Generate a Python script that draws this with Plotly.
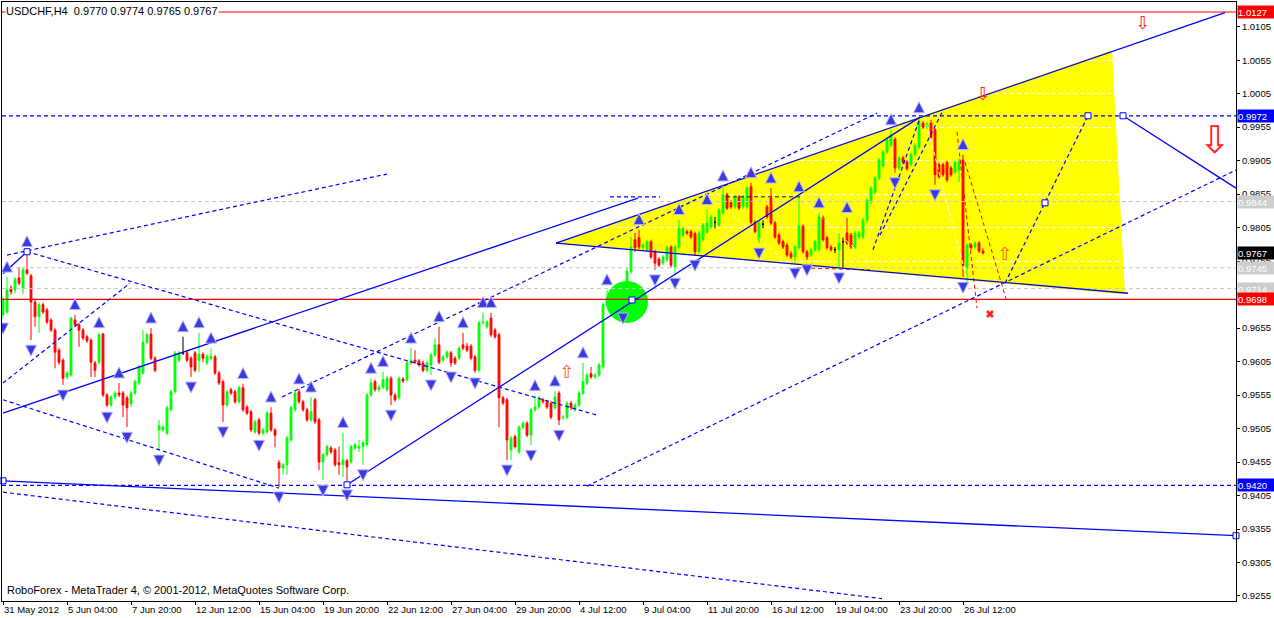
import plotly.graph_objects as go

# ---------------- data ----------------
symbol = "USDCHF,H4"
bar_index = list(range(246))

opens = [
 0.9675, 0.9679, 0.9715, 0.9712, 0.9730, 0.9715, 0.9742, 0.9733, 0.9694, 0.9672,
 0.9690, 0.9682, 0.9667, 0.9652, 0.9622, 0.9607, 0.9582, 0.9585, 0.9667, 0.9660,
 0.9652, 0.9642, 0.9637, 0.9603, 0.9604, 0.9646, 0.9555, 0.9540, 0.9552, 0.9558,
 0.9558, 0.9551, 0.9542, 0.9558, 0.9573, 0.9588, 0.9634, 0.9646, 0.9610, 0.9503,
 0.9503, 0.9498, 0.9533, 0.9560, 0.9607, 0.9618, 0.9618, 0.9610, 0.9618, 0.9607,
 0.9616, 0.9603, 0.9610, 0.9612, 0.9588, 0.9575, 0.9540, 0.9563, 0.9560, 0.9545,
 0.9566, 0.9537, 0.9530, 0.9500, 0.9518, 0.9498, 0.9500, 0.9528, 0.9503, 0.9454,
 0.9446, 0.9451, 0.9488, 0.9533, 0.9560, 0.9545, 0.9533, 0.9518, 0.9548, 0.9518,
 0.9455, 0.9466, 0.9476, 0.9473, 0.9454, 0.9451, 0.9457, 0.9455, 0.9476, 0.9476,
 0.9478, 0.9481, 0.9555, 0.9575, 0.9563, 0.9567, 0.9563, 0.9580, 0.9555, 0.9551,
 0.9579, 0.9578, 0.9603, 0.9607, 0.9606, 0.9603, 0.9592, 0.9600, 0.9615, 0.9630,
 0.9607, 0.9612, 0.9618, 0.9610, 0.9610, 0.9630, 0.9628, 0.9628, 0.9612, 0.9592,
 0.9663, 0.9657, 0.9670, 0.9652, 0.9645, 0.9551, 0.9548, 0.9473, 0.9493, 0.9470,
 0.9507, 0.9513, 0.9495, 0.9533, 0.9537, 0.9548, 0.9545, 0.9543, 0.9536, 0.9558,
 0.9521, 0.9522, 0.9543, 0.9533, 0.9540, 0.9558, 0.9573, 0.9587, 0.9582, 0.9585,
 0.9597, 0.9690, 0.9700, 0.9697, 0.9694, 0.9700, 0.9697, 0.9739, 0.9787, 0.9790,
 0.9775, 0.9772, 0.9784, 0.9769, 0.9758, 0.9752, 0.9757, 0.9776, 0.9746, 0.9776,
 0.9794, 0.9799, 0.9799, 0.9796, 0.9769, 0.9787, 0.9798, 0.9806, 0.9813, 0.9809,
 0.9827, 0.9854, 0.9843, 0.9836, 0.9851, 0.9836, 0.9836, 0.9866, 0.9813, 0.9787,
 0.9810, 0.9836, 0.9849, 0.9812, 0.9794, 0.9784, 0.9779, 0.9766, 0.9761, 0.9775,
 0.9807, 0.9769, 0.9764, 0.9772, 0.9772, 0.9820, 0.9790, 0.9776, 0.9772, 0.9772,
 0.9784, 0.9797, 0.9794, 0.9776, 0.9791, 0.9791, 0.9816, 0.9843, 0.9858, 0.9879,
 0.9897, 0.9918, 0.9928, 0.9937, 0.9894, 0.9909, 0.9903, 0.9899, 0.9914, 0.9925,
 0.9961, 0.9955, 0.9961, 0.9951, 0.9899, 0.9899, 0.9902, 0.9894, 0.9888, 0.9891,
 0.9906, 0.9746, 0.9779, 0.9776, 0.9782, 0.9770,
]
highs = [
 0.9702, 0.9731, 0.9719, 0.9731, 0.9746, 0.9746, 0.9769, 0.9736, 0.9697, 0.9693,
 0.9693, 0.9685, 0.9670, 0.9655, 0.9625, 0.9610, 0.9591, 0.9672, 0.9675, 0.9663,
 0.9655, 0.9645, 0.9640, 0.9606, 0.9648, 0.9648, 0.9558, 0.9555, 0.9561, 0.9573,
 0.9561, 0.9554, 0.9561, 0.9578, 0.9600, 0.9652, 0.9648, 0.9655, 0.9613, 0.9518,
 0.9510, 0.9539, 0.9563, 0.9621, 0.9621, 0.9642, 0.9621, 0.9613, 0.9621, 0.9648,
 0.9619, 0.9616, 0.9625, 0.9615, 0.9591, 0.9578, 0.9563, 0.9566, 0.9563, 0.9569,
 0.9572, 0.9540, 0.9533, 0.9518, 0.9521, 0.9506, 0.9531, 0.9537, 0.9506, 0.9458,
 0.9454, 0.9494, 0.9539, 0.9561, 0.9564, 0.9548, 0.9536, 0.9552, 0.9551, 0.9521,
 0.9469, 0.9481, 0.9479, 0.9476, 0.9478, 0.9499, 0.9460, 0.9481, 0.9484, 0.9488,
 0.9487, 0.9558, 0.9580, 0.9578, 0.9570, 0.9590, 0.9583, 0.9583, 0.9558, 0.9583,
 0.9582, 0.9606, 0.9625, 0.9622, 0.9609, 0.9606, 0.9606, 0.9618, 0.9640, 0.9657,
 0.9615, 0.9622, 0.9621, 0.9613, 0.9628, 0.9648, 0.9633, 0.9631, 0.9615, 0.9666,
 0.9678, 0.9667, 0.9678, 0.9655, 0.9648, 0.9554, 0.9551, 0.9494, 0.9496, 0.9510,
 0.9516, 0.9516, 0.9536, 0.9554, 0.9554, 0.9551, 0.9548, 0.9546, 0.9561, 0.9561,
 0.9525, 0.9546, 0.9546, 0.9543, 0.9561, 0.9603, 0.9588, 0.9597, 0.9588, 0.9603,
 0.9693, 0.9712, 0.9706, 0.9709, 0.9707, 0.9715, 0.9745, 0.9791, 0.9797, 0.9802,
 0.9782, 0.9787, 0.9787, 0.9772, 0.9761, 0.9764, 0.9778, 0.9779, 0.9779, 0.9817,
 0.9807, 0.9802, 0.9802, 0.9799, 0.9800, 0.9812, 0.9832, 0.9824, 0.9821, 0.9834,
 0.9867, 0.9857, 0.9846, 0.9854, 0.9854, 0.9854, 0.9867, 0.9872, 0.9816, 0.9815,
 0.9816, 0.9839, 0.9864, 0.9815, 0.9797, 0.9787, 0.9782, 0.9770, 0.9779, 0.9851,
 0.9810, 0.9772, 0.9775, 0.9787, 0.9827, 0.9823, 0.9793, 0.9779, 0.9776, 0.9797,
 0.9791, 0.9820, 0.9797, 0.9800, 0.9800, 0.9820, 0.9849, 0.9867, 0.9882, 0.9909,
 0.9921, 0.9939, 0.9951, 0.9940, 0.9912, 0.9912, 0.9906, 0.9917, 0.9931, 0.9969,
 0.9964, 0.9963, 0.9966, 0.9954, 0.9902, 0.9902, 0.9905, 0.9897, 0.9905, 0.9909,
 0.9914, 0.9782, 0.9782, 0.9785, 0.9785, 0.9774,
]
lows = [
 0.9670, 0.9676, 0.9705, 0.9707, 0.9719, 0.9706, 0.9734, 0.9637, 0.9657, 0.9648,
 0.9676, 0.9661, 0.9649, 0.9595, 0.9600, 0.9570, 0.9578, 0.9582, 0.9657, 0.9627,
 0.9637, 0.9633, 0.9582, 0.9582, 0.9601, 0.9552, 0.9537, 0.9537, 0.9549, 0.9552,
 0.9522, 0.9507, 0.9537, 0.9555, 0.9570, 0.9585, 0.9631, 0.9607, 0.9589, 0.9473,
 0.9500, 0.9495, 0.9530, 0.9557, 0.9604, 0.9615, 0.9604, 0.9582, 0.9589, 0.9589,
 0.9604, 0.9600, 0.9607, 0.9585, 0.9570, 0.9515, 0.9537, 0.9555, 0.9542, 0.9542,
 0.9530, 0.9525, 0.9500, 0.9497, 0.9495, 0.9495, 0.9497, 0.9500, 0.9477, 0.9418,
 0.9436, 0.9436, 0.9485, 0.9530, 0.9542, 0.9530, 0.9515, 0.9515, 0.9512, 0.9443,
 0.9428, 0.9463, 0.9467, 0.9448, 0.9436, 0.9433, 0.9421, 0.9452, 0.9473, 0.9470,
 0.9451, 0.9478, 0.9552, 0.9560, 0.9560, 0.9564, 0.9560, 0.9540, 0.9545, 0.9548,
 0.9573, 0.9575, 0.9600, 0.9601, 0.9597, 0.9589, 0.9589, 0.9585, 0.9612, 0.9601,
 0.9604, 0.9609, 0.9597, 0.9600, 0.9607, 0.9622, 0.9619, 0.9607, 0.9588, 0.9589,
 0.9660, 0.9654, 0.9642, 0.9639, 0.9507, 0.9540, 0.9458, 0.9458, 0.9475, 0.9467,
 0.9504, 0.9492, 0.9480, 0.9530, 0.9534, 0.9542, 0.9534, 0.9519, 0.9533, 0.9510,
 0.9518, 0.9519, 0.9533, 0.9530, 0.9537, 0.9555, 0.9570, 0.9579, 0.9579, 0.9582,
 0.9594, 0.9687, 0.9688, 0.9688, 0.9691, 0.9685, 0.9693, 0.9736, 0.9769, 0.9773,
 0.9772, 0.9769, 0.9758, 0.9742, 0.9746, 0.9749, 0.9754, 0.9745, 0.9737, 0.9773,
 0.9791, 0.9794, 0.9788, 0.9764, 0.9766, 0.9784, 0.9796, 0.9803, 0.9804, 0.9806,
 0.9824, 0.9831, 0.9833, 0.9833, 0.9831, 0.9833, 0.9833, 0.9810, 0.9796, 0.9782,
 0.9804, 0.9818, 0.9809, 0.9788, 0.9779, 0.9773, 0.9761, 0.9758, 0.9752, 0.9772,
 0.9766, 0.9757, 0.9761, 0.9769, 0.9769, 0.9784, 0.9772, 0.9769, 0.9767, 0.9745,
 0.9745, 0.9779, 0.9773, 0.9773, 0.9788, 0.9788, 0.9813, 0.9840, 0.9855, 0.9876,
 0.9894, 0.9915, 0.9925, 0.9887, 0.9891, 0.9900, 0.9890, 0.9896, 0.9911, 0.9922,
 0.9952, 0.9952, 0.9937, 0.9869, 0.9878, 0.9881, 0.9873, 0.9881, 0.9885, 0.9873,
 0.9731, 0.9724, 0.9772, 0.9773, 0.9767, 0.9765,
]
closes = [
 0.9697, 0.9712, 0.9709, 0.9728, 0.9722, 0.9742, 0.9737, 0.9694, 0.9672, 0.9690,
 0.9679, 0.9664, 0.9652, 0.9619, 0.9604, 0.9580, 0.9588, 0.9670, 0.9660, 0.9652,
 0.9640, 0.9636, 0.9604, 0.9592, 0.9645, 0.9555, 0.9540, 0.9552, 0.9558, 0.9555,
 0.9540, 0.9536, 0.9558, 0.9575, 0.9597, 0.9634, 0.9645, 0.9610, 0.9592, 0.9509,
 0.9507, 0.9536, 0.9560, 0.9618, 0.9618, 0.9618, 0.9607, 0.9597, 0.9592, 0.9616,
 0.9610, 0.9613, 0.9613, 0.9588, 0.9573, 0.9540, 0.9560, 0.9558, 0.9545, 0.9566,
 0.9533, 0.9528, 0.9503, 0.9515, 0.9498, 0.9503, 0.9528, 0.9503, 0.9495, 0.9446,
 0.9451, 0.9491, 0.9536, 0.9558, 0.9545, 0.9533, 0.9518, 0.9530, 0.9515, 0.9455,
 0.9466, 0.9478, 0.9470, 0.9451, 0.9451, 0.9458, 0.9448, 0.9478, 0.9481, 0.9478,
 0.9484, 0.9555, 0.9573, 0.9563, 0.9567, 0.9578, 0.9580, 0.9555, 0.9548, 0.9580,
 0.9576, 0.9603, 0.9607, 0.9604, 0.9600, 0.9592, 0.9603, 0.9615, 0.9630, 0.9604,
 0.9612, 0.9619, 0.9603, 0.9603, 0.9625, 0.9625, 0.9622, 0.9610, 0.9592, 0.9663,
 0.9664, 0.9664, 0.9645, 0.9642, 0.9551, 0.9543, 0.9488, 0.9491, 0.9478, 0.9507,
 0.9513, 0.9495, 0.9533, 0.9537, 0.9551, 0.9545, 0.9537, 0.9522, 0.9552, 0.9518,
 0.9522, 0.9543, 0.9536, 0.9540, 0.9558, 0.9575, 0.9585, 0.9582, 0.9585, 0.9600,
 0.9690, 0.9700, 0.9693, 0.9696, 0.9703, 0.9694, 0.9740, 0.9776, 0.9775, 0.9776,
 0.9779, 0.9784, 0.9761, 0.9752, 0.9749, 0.9761, 0.9775, 0.9749, 0.9776, 0.9804,
 0.9804, 0.9797, 0.9791, 0.9769, 0.9797, 0.9809, 0.9812, 0.9821, 0.9813, 0.9831,
 0.9854, 0.9834, 0.9836, 0.9851, 0.9834, 0.9851, 0.9864, 0.9813, 0.9799, 0.9812,
 0.9810, 0.9821, 0.9812, 0.9791, 0.9782, 0.9776, 0.9764, 0.9761, 0.9776, 0.9807,
 0.9769, 0.9761, 0.9772, 0.9784, 0.9821, 0.9787, 0.9775, 0.9772, 0.9772, 0.9782,
 0.9784, 0.9782, 0.9776, 0.9797, 0.9797, 0.9816, 0.9846, 0.9864, 0.9879, 0.9906,
 0.9918, 0.9936, 0.9943, 0.9894, 0.9909, 0.9903, 0.9893, 0.9914, 0.9928, 0.9963,
 0.9955, 0.9960, 0.9940, 0.9884, 0.9881, 0.9884, 0.9876, 0.9884, 0.9902, 0.9903,
 0.9749, 0.9779, 0.9775, 0.9782, 0.9770, 0.9767,
]

time_tick_index = [0, 16, 32, 48, 64, 80, 96, 112, 128, 144, 160, 176, 192, 208, 224, 240]
time_tick_labels = ["31 May 2012", "5 Jun 04:00", "7 Jun 20:00", "12 Jun 12:00", "15 Jun 04:00",
                    "19 Jun 20:00", "22 Jun 12:00", "27 Jun 04:00", "29 Jun 20:00", "4 Jul 12:00",
                    "9 Jul 04:00", "11 Jul 20:00", "16 Jul 12:00", "19 Jul 04:00", "23 Jul 20:00",
                    "26 Jul 12:00"]
price_tick_labels = ["0.9255", "0.9305", "0.9355", "0.9405", "0.9455", "0.9505", "0.9555", "0.9605",
                     "0.9655", "0.9705", "0.9755", "0.9805", "0.9855", "0.9905", "0.9955", "1.0005",
                     "1.0055", "1.0105"]

fractal_up_bars = [1, 6, 18, 24, 29, 37, 45, 49, 52, 60, 67, 74, 77, 85, 92, 95, 102, 109, 115, 120,
                   122, 133, 138, 145, 151, 159, 169, 176, 180, 187, 192, 199, 204, 211, 222, 229, 240]
fractal_down_bars = [0, 7, 15, 26, 31, 39, 47, 55, 64, 69, 80, 86, 90, 97, 107, 112, 118, 126, 132,
                     139, 155, 163, 168, 173, 189, 198, 201, 209, 223, 233, 240]

red_levels = [1.0127, 0.9698]
blue_levels = [0.9972, 0.9420]
gray_levels = [0.9844, 0.9745, 0.9714]
bid_level = 0.9767

yellow_triangle = [(138.25, 0.9782), (277.25, 1.0070), (280.5, 0.9705)]

solid_lines = [
    (0, 0.9528, 158.75, 0.9849),
    (138.25, 0.9782, 305.5, 1.0126),
    (86, 0.9421, 229.25, 0.9970),
    (138.25, 0.9782, 281.25, 0.9707),
    (0, 0.9427, 308.25, 0.9345),
    (280, 0.9972, 308.25, 0.9864),
    (0, 0.9736, 6, 0.9769),
]
dashed_lines = [
    (1, 0.9764, 96, 0.9885),
    (6, 0.9769, 148.5, 0.9525),
    (0, 0.9573, 31.75, 0.9722),
    (0, 0.9548, 69, 0.9416),
    (0, 0.9410, 219.75, 0.9251),
    (69.75, 0.9552, 218.5, 0.9976),
    (146, 0.9419, 308.25, 0.9891),
    (250.5, 0.9722, 271.25, 0.9972),
    (151.75, 0.9851, 164.25, 0.9851),
    (217.5, 0.9772, 229.25, 0.9969),
    (219.25, 0.9794, 234.75, 0.9977),
]
dark_dashed_lines = [(180.75, 0.9851, 199.25, 0.9851)]
red_dashed_lines = [
    (238.5, 0.9948, 243.5, 0.9685),
    (240.5, 0.9903, 251, 0.9694),
    (198.5, 0.9745, 216.75, 0.9742),
]
white_dashed_lines = [
    (230.5, 0.9969, 241, 0.9727),
    (181, 0.9831, 196, 0.9752),
    (199.25, 0.9851, 216.75, 0.9752),
]
anchor_squares = [(6, 0.9769), (86, 0.9421), (157.25, 0.9697), (280, 0.9972), (271.25, 0.9972),
                  (260.5, 0.9842), (0, 0.9427), (308.25, 0.9345)]
green_circle = (156, 0.9694)
hollow_down_small = [(245, 1.0003), (285, 1.0108)]
hollow_down_big = [(303, 0.9931)]
hollow_up = [(141, 0.9587), (250.5, 0.9764)]
stop_cross = [(246.75, 0.9676)]

X_RANGE = [-0.25, 308.25]
Y_RANGE = [0.92475, 1.01419]

# ---------------- figure ----------------
fig = go.Figure()

norm = [i for i in bar_index if opens[i] != closes[i]]
doji = [i for i in bar_index if opens[i] == closes[i]]

fig.add_trace(go.Candlestick(
    x=norm, open=[opens[i] for i in norm], high=[highs[i] for i in norm],
    low=[lows[i] for i in norm], close=[closes[i] for i in norm],
    increasing=dict(line=dict(color="#00ff00", width=1), fillcolor="#00ff00"),
    decreasing=dict(line=dict(color="#ff0000", width=1), fillcolor="#ff0000"),
    whiskerwidth=0, showlegend=False, hoverinfo="skip"))
fig.add_trace(go.Candlestick(
    x=doji, open=[opens[i] for i in doji], high=[highs[i] for i in doji],
    low=[lows[i] for i in doji], close=[closes[i] for i in doji],
    increasing=dict(line=dict(color="#000000", width=1), fillcolor="#000000"),
    decreasing=dict(line=dict(color="#000000", width=1), fillcolor="#000000"),
    whiskerwidth=0, showlegend=False, hoverinfo="skip"))

# green circle
fig.add_trace(go.Scatter(x=[green_circle[0]], y=[green_circle[1]], mode="markers",
                         marker=dict(size=42, color="#00ff00", line=dict(width=0)),
                         showlegend=False, hoverinfo="skip"))


def seg_trace(segs, color, dash, width):
    xs, ys = [], []
    for x0, y0, x1, y1 in segs:
        xs += [x0, x1, None]
        ys += [y0, y1, None]
    return go.Scatter(x=xs, y=ys, mode="lines", line=dict(color=color, dash=dash, width=width),
                      showlegend=False, hoverinfo="skip", connectgaps=False)


def full(levels):
    return [(X_RANGE[0], v, X_RANGE[1], v) for v in levels]


fig.add_trace(seg_trace(full(gray_levels), "#c8c8c8", "4px,3px", 1))
fig.add_trace(seg_trace(white_dashed_lines, "#ffffff", "4px,3px", 1))
fig.add_trace(seg_trace(red_dashed_lines, "#ff0000", "4px,3px", 1))
fig.add_trace(seg_trace(full(red_levels), "#ff0000", "solid", 1.2))
fig.add_trace(seg_trace(full(blue_levels), "#0000ff", "4px,3px", 1.2))
fig.add_trace(seg_trace(dark_dashed_lines, "#202020", "4px,3px", 1))
fig.add_trace(seg_trace(dashed_lines, "#0000ff", "4px,3px", 1.2))
fig.add_trace(seg_trace(solid_lines, "#0000ff", "solid", 1.3))

# fractals
off = 0.0024
fig.add_trace(go.Scatter(x=fractal_up_bars, y=[highs[i] + off for i in fractal_up_bars],
                         mode="markers", marker=dict(symbol="arrow-up", size=11, color="#3a3ae0",
                                                     line=dict(color="#b8b8ff", width=1)),
                         showlegend=False, hoverinfo="skip"))
fig.add_trace(go.Scatter(x=fractal_down_bars, y=[lows[i] - off for i in fractal_down_bars],
                         mode="markers", marker=dict(symbol="arrow-down", size=11, color="#3a3ae0",
                                                     line=dict(color="#b8b8ff", width=1)),
                         showlegend=False, hoverinfo="skip"))

# anchor squares
fig.add_trace(go.Scatter(x=[p[0] for p in anchor_squares], y=[p[1] for p in anchor_squares],
                         mode="markers", marker=dict(symbol="square", size=6, color="white",
                                                     line=dict(color="#0000ff", width=1)),
                         showlegend=False, hoverinfo="skip", cliponaxis=False))

# hollow arrows and cross
fig.add_trace(go.Scatter(x=[p[0] for p in hollow_down_small], y=[p[1] for p in hollow_down_small],
                         mode="text", text=["\u21e9"] * len(hollow_down_small),
                         textfont=dict(size=18, color="#ff2020", family="DejaVu Sans"),
                         showlegend=False, hoverinfo="skip"))
fig.add_trace(go.Scatter(x=[p[0] for p in hollow_down_big], y=[p[1] for p in hollow_down_big],
                         mode="text", text=["\u21e9"] * len(hollow_down_big),
                         textfont=dict(size=38, color="#ff2020", family="DejaVu Sans"),
                         showlegend=False, hoverinfo="skip"))
fig.add_trace(go.Scatter(x=[p[0] for p in hollow_up], y=[p[1] for p in hollow_up],
                         mode="text", text=["\u21e7"] * len(hollow_up),
                         textfont=dict(size=18, color="#ff5a2a", family="DejaVu Sans"),
                         showlegend=False, hoverinfo="skip"))
fig.add_trace(go.Scatter(x=[p[0] for p in stop_cross], y=[p[1] for p in stop_cross],
                         mode="markers", marker=dict(symbol="x", size=7, color="#ff2020", line=dict(width=0)),
                         showlegend=False, hoverinfo="skip"))

# shapes: yellow triangle and bid line (below grid)
tri = yellow_triangle
path = "M {} {} L {} {} L {} {} Z".format(tri[0][0], tri[0][1], tri[1][0], tri[1][1], tri[2][0], tri[2][1])
shapes = [
    dict(type="path", path=path, xref="x", yref="y", fillcolor="#ffff00", line=dict(width=0), layer="below"),
    dict(type="line", xref="paper", x0=0, x1=1, yref="y", y0=bid_level, y1=bid_level,
         line=dict(color="#ffffff", width=1.5), layer="below"),
]

FONT = "Liberation Sans, Arial, sans-serif"
ann = []


def level_box(v, bg, fg="white"):
    ann.append(dict(xref="paper", x=1, xanchor="left", xshift=1, yref="y", y=v, yanchor="middle",
                    text="{:.4f}".format(v), showarrow=False, bgcolor=bg, borderpad=0, width=36, height=12,
                    align="left", font=dict(family=FONT, size=9.5, color=fg)))


for v in gray_levels:
    level_box(v, "#cdcdcd")
for v in red_levels:
    level_box(v, "#ff0000")
for v in blue_levels:
    level_box(v, "#0000ff")
level_box(bid_level, "#000000")

ann.append(dict(xref="paper", x=0, xanchor="left", xshift=3, yref="paper", y=1, yanchor="top", yshift=-2,
                text="{}  {:.4f} {:.4f} {:.4f} {:.4f}".format(symbol, opens[-1], highs[-1], lows[-1], closes[-1]),
                showarrow=False, bgcolor="white", borderpad=0, font=dict(family=FONT, size=11, color="black")))
ann.append(dict(xref="paper", x=0, xanchor="left", xshift=3, yref="paper", y=0, yanchor="bottom", yshift=3,
                text="RoboForex - MetaTrader 4, \u00a9 2001-2012, MetaQuotes Software Corp.",
                showarrow=False, font=dict(family=FONT, size=11, color="black")))

fig.update_layout(
    width=1274, height=618,
    margin=dict(l=2, r=38, t=2, b=17, autoexpand=False),
    paper_bgcolor="white", plot_bgcolor="white",
    showlegend=False, boxgap=0.35,
    shapes=shapes, annotations=ann,
    xaxis=dict(range=X_RANGE, rangeslider=dict(visible=False), showgrid=False, zeroline=False,
               showline=True, mirror=True, linecolor="black", linewidth=1, automargin=False,
               tickmode="array", tickvals=time_tick_index, ticktext=time_tick_labels, tickangle=0,
               ticks="outside", ticklen=3, tickcolor="black", ticklabelposition="outside right",
               tickfont=dict(family=FONT, size=9.5, color="black")),
    yaxis=dict(range=Y_RANGE, side="right", showgrid=True, gridcolor="white", griddash="4px,3px",
               gridwidth=1, zeroline=False, showline=True, mirror=True, linecolor="black", linewidth=1,
               automargin=False,
               tickmode="array", tickvals=[float(t) for t in price_tick_labels], ticktext=price_tick_labels,
               ticks="outside", ticklen=3, tickcolor="black",
               tickfont=dict(family=FONT, size=9.5, color="black")),
)

fig.write_html("out.html", config={"displayModeBar": False, "staticPlot": True},
               post_script="document.body.style.margin='0px';document.body.style.overflow='hidden';")
